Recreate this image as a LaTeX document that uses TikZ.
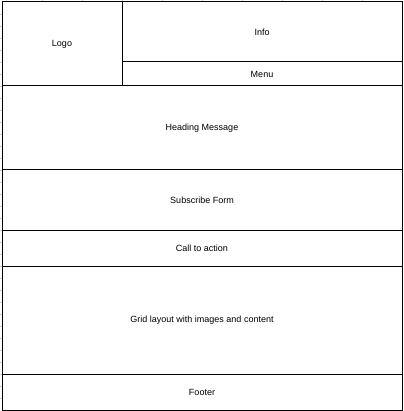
\documentclass[tikz,border=0pt]{standalone}
\usepackage{fontspec}
\setmainfont{Liberation Sans}
\usetikzlibrary{positioning}

\begin{document}
\begin{tikzpicture}[x=1pt, y=-1pt, node distance=0pt,
		cell/.style={draw, line width=1pt, fill=white, inner sep=0pt, outer sep=0pt, font=\fontsize{9}{11}\selectfont},
		gridline/.style={gray!40, line width=0.8pt}]
		\useasboundingbox (0,0) rectangle (403,411);

		% sheet grid behind the layout
		\foreach \x in {42,82,...,362}
			\draw[gridline] (\x,0) -- (\x,411);
		\foreach \y in {14,26,...,398}
			\draw[gridline] (0,\y) -- (403,\y);

		\node[cell, anchor=north west, minimum width=120pt, minimum height=84pt] (logo) at (2,2) {Logo};
		\node[cell, below right=of logo.north east, minimum width=280pt, minimum height=60pt] (info) {Info};
		\node[cell, below=of info, minimum width=280pt, minimum height=24pt] (menu) {Menu};
		\node[cell, below right=of logo.south west, minimum width=400pt, minimum height=84pt] (heading) {Heading Message};
		\node[cell, below=of heading, minimum width=400pt, minimum height=60pt] (subscribe) {Subscribe Form};
		\node[cell, below=of subscribe, minimum width=400pt, minimum height=36pt] (action) {Call to action};
		\node[cell, below=of action, minimum width=400pt, minimum height=108pt] (content) {Grid layout with images and content};
		\node[cell, below=of content, minimum width=400pt, minimum height=36pt] (footer) {Footer};
	\end{tikzpicture}
\end{document}
